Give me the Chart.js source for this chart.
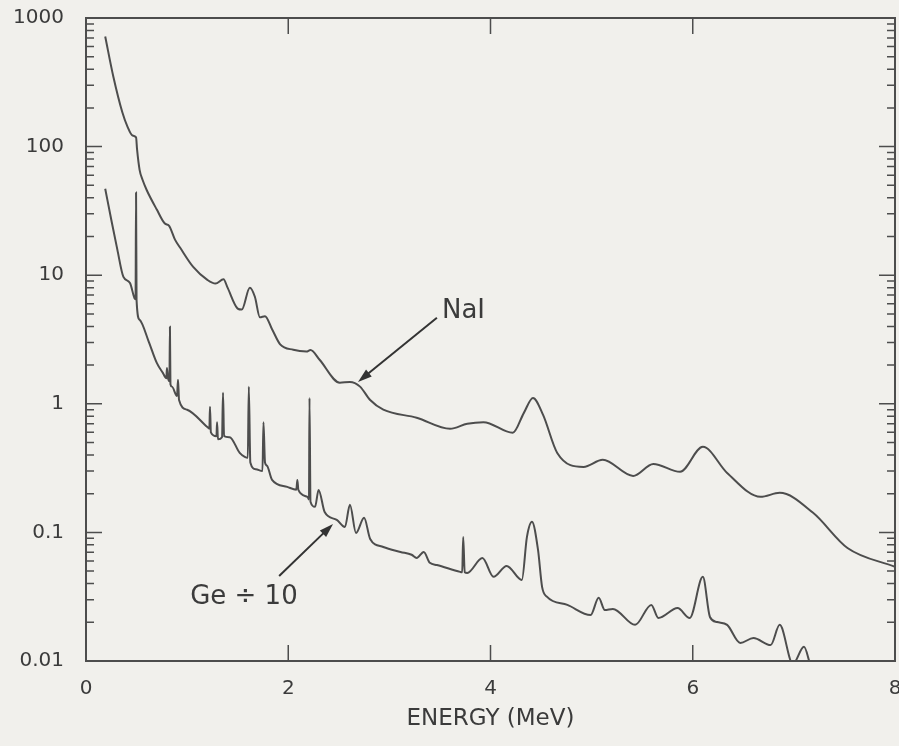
<!DOCTYPE html>
<html lang="en">
<head>
  <meta charset="UTF-8">
  <title>NaI and Ge spectra</title>
  <script src="https://cdn.jsdelivr.net/npm/chart.js"></script>
  <style>
    body {
      margin: 0;
      background: #f1f0ec;
    }
    canvas {
      display: block;
    }
  </style>
</head>
<body>

  <canvas id="spectrumChart" width="899" height="746"></canvas>

  <script>
    // Energy (MeV) and counts
    const naiEnergy = [0.19, 0.27, 0.36, 0.41, 0.46, 0.495, 0.505, 0.53, 0.56, 0.60, 0.70, 0.78, 0.82, 0.88, 0.93,
      1.06, 1.20, 1.28, 1.36, 1.40, 1.50, 1.54, 1.62, 1.67, 1.72, 1.77, 1.84, 1.92, 2.05, 2.18, 2.22, 2.31,
      2.51, 2.61, 2.71, 2.81, 2.94, 3.27, 3.60, 3.77, 3.93, 4.22, 4.33, 4.42, 4.52, 4.66, 4.92, 5.11, 5.41,
      5.61, 5.875, 6.10, 6.34, 6.67, 6.86, 7.19, 7.53, 8.0];
    const naiCounts = [718, 351, 184, 143, 122, 118, 95, 66, 55, 46, 32.4, 25.2, 24.3, 18.9, 16.4,
      11.6, 9.2, 8.6, 9.3, 8.0, 5.5, 5.4, 8.0, 6.8, 4.7, 4.8, 3.8, 2.9, 2.63, 2.55, 2.62, 2.2,
      1.46, 1.48, 1.36, 1.07, 0.90, 0.78, 0.64, 0.70, 0.72, 0.595, 0.85, 1.11, 0.82, 0.415, 0.323, 0.367, 0.275,
      0.341, 0.296, 0.463, 0.29, 0.189, 0.203, 0.142, 0.0757, 0.054];

    const geEnergy = [0.19, 0.25, 0.31, 0.37, 0.435, 0.48, 0.49, 0.495, 0.50, 0.53, 0.62, 0.70, 0.76,
      0.795, 0.80, 0.81, 0.825, 0.83, 0.835, 0.85, 0.90, 0.91, 0.92, 1.0, 1.2, 1.22, 1.226, 1.235,
      1.29, 1.296, 1.305, 1.345, 1.355, 1.365, 1.42, 1.52, 1.57, 1.60, 1.61, 1.625, 1.68,
      1.745, 1.755, 1.77, 1.79, 1.84, 1.99, 2.08, 2.09, 2.10, 2.19, 2.205, 2.21, 2.22, 2.265, 2.30, 2.36,
      2.48, 2.56, 2.61, 2.67, 2.75, 2.81, 2.94, 3.11, 3.22, 3.27, 3.34, 3.40, 3.47, 3.70, 3.72, 3.73, 3.745,
      3.77, 3.92, 4.03, 4.16, 4.31, 4.36, 4.41, 4.47, 4.51, 4.56, 4.76, 4.99, 5.07, 5.13, 5.21, 5.43,
      5.59, 5.66, 5.85, 5.97, 6.10, 6.17, 6.24, 6.34, 6.47, 6.60, 6.77, 6.86, 6.99, 7.10, 7.16];
    const geCounts = [47, 27, 15.8, 9.7, 8.7, 6.6, 6.5, 44, 6.4, 4.5, 3.05, 2.08, 1.74,
      1.58, 1.9, 1.6, 1.5, 3.97, 1.42, 1.36, 1.15, 1.54, 1.07, 0.90, 0.66, 0.64, 0.95, 0.60,
      0.56, 0.72, 0.53, 0.55, 1.22, 0.56, 0.55, 0.415, 0.387, 0.38, 1.36, 0.35, 0.31,
      0.30, 0.72, 0.35, 0.33, 0.256, 0.226, 0.215, 0.256, 0.214, 0.189, 0.18, 1.11, 0.173, 0.158, 0.214, 0.144,
      0.125, 0.110, 0.164, 0.099, 0.130, 0.089, 0.077, 0.0705, 0.067, 0.0632, 0.0705, 0.058, 0.0558, 0.0493, 0.049, 0.092, 0.049,
      0.0484, 0.0632, 0.0451, 0.0548, 0.0427, 0.092, 0.121, 0.073, 0.0377, 0.0315, 0.0273, 0.0228, 0.031, 0.0249, 0.0254, 0.0191,
      0.0273, 0.0216, 0.0258, 0.0216, 0.0451, 0.022, 0.0201, 0.0191, 0.0138, 0.0151, 0.0133, 0.0191, 0.0095, 0.0129, 0.0095];

    const xTicks = [0, 2, 4, 6, 8];
    const yTicks = [0.01, 0.1, 1, 10, 100, 1000];
    const yTickLabels = ['0.01', '0.1', '1', '10', '100', '1000'];

    const ink = '#4d4d4d';
    const textColor = '#3b3b3b';
    const fontFamily = '"DejaVu Sans", "Liberation Sans", Arial, sans-serif';

    const toPoints = (xs, ys) => xs.map((v, i) => ({ x: v, y: ys[i] }));

    // inward ticks on all four sides + top/right frame + arrow labels
    const frameAndNotes = {
      id: 'frameAndNotes',
      afterDraw(chart) {
        const { ctx, chartArea: a, scales: { x, y } } = chart;
        ctx.save();
        ctx.strokeStyle = ink;
        ctx.lineWidth = 2;
        ctx.beginPath();
        ctx.moveTo(a.left, a.top);
        ctx.lineTo(a.right, a.top);
        ctx.lineTo(a.right, a.bottom);
        ctx.stroke();

        ctx.lineWidth = 1.5;
        ctx.beginPath();
        yTicks.forEach((d, i) => {
          const py = y.getPixelForValue(d);
          ctx.moveTo(a.left, py); ctx.lineTo(a.left + 16, py);
          ctx.moveTo(a.right, py); ctx.lineTo(a.right - 16, py);
          if (i < yTicks.length - 1) {
            for (let m = 2; m < 10; m++) {
              const p = y.getPixelForValue(d * m);
              ctx.moveTo(a.left, p); ctx.lineTo(a.left + 8, p);
              ctx.moveTo(a.right, p); ctx.lineTo(a.right - 8, p);
            }
          }
        });
        xTicks.slice(1, -1).forEach(v => {
          const px = x.getPixelForValue(v);
          ctx.moveTo(px, a.bottom); ctx.lineTo(px, a.bottom - 16);
          ctx.moveTo(px, a.top); ctx.lineTo(px, a.top + 16);
        });
        ctx.stroke();

        // labels with arrows
        const notes = [
          { text: 'NaI', tx: 3.52, ty: 5.2, from: [3.47, 4.67], to: [2.69, 1.48] },
          { text: 'Ge ÷ 10', tx: 1.03, ty: 0.0315, from: [1.91, 0.0458], to: [2.443, 0.1164] }
        ];
        ctx.font = '26px ' + fontFamily;
        ctx.textAlign = 'left';
        ctx.textBaseline = 'middle';
        notes.forEach(n => {
          ctx.fillStyle = textColor;
          ctx.fillText(n.text, x.getPixelForValue(n.tx), y.getPixelForValue(n.ty));
          const x0 = x.getPixelForValue(n.from[0]), y0 = y.getPixelForValue(n.from[1]);
          const x1 = x.getPixelForValue(n.to[0]), y1 = y.getPixelForValue(n.to[1]);
          const ang = Math.atan2(y1 - y0, x1 - x0);
          ctx.strokeStyle = '#333';
          ctx.lineWidth = 2;
          ctx.beginPath();
          ctx.moveTo(x0, y0);
          ctx.lineTo(x1 - 10 * Math.cos(ang), y1 - 10 * Math.sin(ang));
          ctx.stroke();
          ctx.fillStyle = '#333';
          ctx.beginPath();
          ctx.moveTo(x1, y1);
          ctx.lineTo(x1 - 14 * Math.cos(ang) + 4.5 * Math.sin(ang), y1 - 14 * Math.sin(ang) - 4.5 * Math.cos(ang));
          ctx.lineTo(x1 - 14 * Math.cos(ang) - 4.5 * Math.sin(ang), y1 - 14 * Math.sin(ang) + 4.5 * Math.cos(ang));
          ctx.closePath();
          ctx.fill();
        });
        ctx.restore();
      }
    };

    const ctx = document.getElementById('spectrumChart').getContext('2d');

    const spectrumChart = new Chart(ctx, {
      type: 'line',
      data: {
        datasets: [{
          label: 'NaI',
          data: toPoints(naiEnergy, naiCounts),
          borderColor: ink,
          borderWidth: 2,
          pointRadius: 0,
          fill: false,
          cubicInterpolationMode: 'monotone'
        }, {
          label: 'Ge ÷ 10',
          data: toPoints(geEnergy, geCounts),
          borderColor: ink,
          borderWidth: 2,
          pointRadius: 0,
          fill: false,
          cubicInterpolationMode: 'monotone'
        }]
      },
      options: {
        responsive: false,
        animation: false,
        layout: { padding: { top: 18, right: 4, left: 0, bottom: 0 } },
        plugins: {
          legend: { display: false },
          tooltip: { enabled: false }
        },
        scales: {
          x: {
            type: 'linear',
            min: 0,
            max: 8,
            afterBuildTicks: s => { s.ticks = xTicks.map(v => ({ value: v })); },
            afterFit: s => { s.height = 85; s.paddingLeft = 0; s.paddingRight = 0; },
            grid: { drawOnChartArea: false, drawTicks: false },
            border: { color: ink, width: 2 },
            ticks: {
              color: textColor,
              padding: 16,
              maxRotation: 0,
              font: { family: fontFamily, size: 20 }
            },
            title: {
              display: true,
              text: 'ENERGY (MeV)',
              color: textColor,
              padding: { top: 0, bottom: 13 },
              font: { family: fontFamily, size: 23 }
            }
          },
          y: {
            type: 'logarithmic',
            min: 0.01,
            max: 1000,
            afterBuildTicks: s => { s.ticks = yTicks.map(v => ({ value: v })); },
            afterFit: s => { s.width = 86; s.paddingTop = 0; s.paddingBottom = 0; },
            grid: { drawOnChartArea: false, drawTicks: false },
            border: { color: ink, width: 2 },
            ticks: {
              color: textColor,
              padding: 22,
              font: { family: fontFamily, size: 20 },
              callback: (v) => yTickLabels[yTicks.indexOf(v)]
            }
          }
        }
      },
      plugins: [frameAndNotes]
    });
  </script>

</body>
</html>
